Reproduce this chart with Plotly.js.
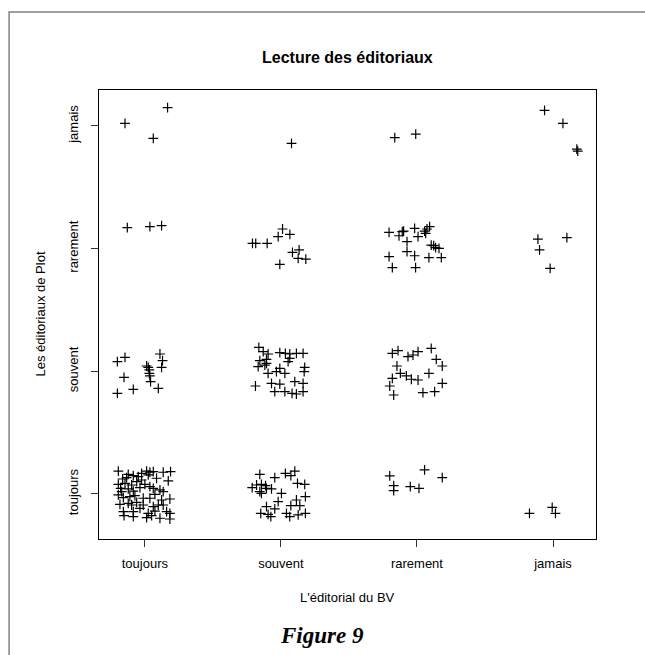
<!DOCTYPE html>
<html>
<head>
<meta charset="utf-8">
<script src="https://cdn.plot.ly/plotly-3.0.1.min.js"></script>
<style>
  html, body { margin: 0; padding: 0; background: #fff; overflow: hidden; }
  #chart { width: 645px; height: 655px; }
</style>
</head>
<body>
<div id="chart"></div>
<script>
// Category labels (both axes share the same scale)
const categories = ["toujours", "souvent", "rarement", "jamais"];
const categoryCodes = [1, 2, 3, 4];

// Jittered answers: x = L'éditorial du BV, y = Les éditoriaux de Plot
// toujours / toujours
const ttX = [0.805,0.878,1.013,1.037,1.062,1.135,1.189,0.837,0.866,0.915,0.952,0.976,1.086,1.172,0.805,0.854,0.903,0.94,1.0,1.037,1.062,0.822,0.878,0.915,0.964,1.111,1.135,0.805,0.842,0.927,0.988,1.074,1.123,1.184,0.817,0.878,0.903,0.94,0.988,1.062,1.099,0.842,0.915,1.025,1.074,1.16,1.184,0.847,0.915,1.013,1.05,1.111,1.184,0.976,1.025,0.83,1.037,0.964,0.89,1.135];
const ttY = [1.187,1.16,1.187,1.177,1.182,1.177,1.182,1.122,1.133,1.149,1.141,1.114,1.128,1.106,1.079,1.087,1.073,1.10,1.079,1.06,1.046,1.046,1.041,1.024,1.052,1.033,1.019,0.992,0.97,0.986,0.965,0.997,0.951,0.959,0.916,0.924,0.91,0.932,0.91,0.897,0.91,0.856,0.856,0.842,0.861,0.856,0.842,0.823,0.815,0.807,0.823,0.802,0.796,1.168,1.155,1.019,0.965,0.883,0.978,0.91];
// souvent (BV) / toujours (Plot)
const stX = [1.845,1.955,2.033,2.073,2.102,1.789,1.821,1.857,1.887,1.845,1.857,1.894,1.931,2.004,2.122,2.175,1.98,2.114,2.18,1.894,1.955,2.073,2.139,1.852,1.906,1.926,2.041,2.065,2.127,2.18];
const stY = [1.16,1.133,1.168,1.149,1.187,1.052,1.073,1.079,1.068,1.019,1.005,1.046,1.041,1.005,1.087,1.079,0.938,0.951,0.978,0.897,0.878,0.905,0.905,0.842,0.834,0.815,0.842,0.815,0.829,0.842];
// rarement / toujours and jamais / toujours
const rtX = [2.8,2.829,2.829,2.951,3.015,3.056,3.186];
const rtY = [1.147,1.068,1.027,1.06,1.046,1.196,1.133];
const jtX = [3.827,3.994,4.018];
const jtY = [0.842,0.891,0.842];
// ... / souvent
const tsX = [0.798,0.854,1.111,1.13,1.123,1.013,1.025,1.033,1.033,1.037,1.042,0.847,0.915,1.099,0.798];
const tsY = [2.079,2.114,2.141,2.087,2.032,2.043,2.032,2.011,1.983,1.962,1.916,1.951,1.853,1.861,1.82];
const ssX = [1.838,1.87,1.906,1.992,2.033,2.065,2.114,2.163,1.845,1.894,2.065,1.833,1.882,1.906,1.992,2.029,1.967,2.175,2.171,1.813,1.931,1.992,2.102,2.163,1.955,2.029,2.082,2.114,2.163,1.894,2.053];
const ssY = [2.195,2.16,2.141,2.152,2.146,2.141,2.146,2.146,2.087,2.098,2.106,2.038,2.051,1.983,2.024,1.983,1.997,2.032,1.997,1.88,1.902,1.896,1.916,1.902,1.834,1.834,1.82,1.815,1.834,2.065,2.079];
const rsX = [2.819,2.861,2.934,2.971,3.008,3.105,3.142,3.186,2.853,2.878,2.922,2.959,3.008,3.088,2.819,2.8,3.186,2.829,3.044,3.13];
const rsY = [2.146,2.168,2.119,2.133,2.16,2.187,2.098,2.043,2.043,1.983,1.962,1.935,1.929,1.983,1.943,1.88,1.902,1.807,1.826,1.834];
// ... / rarement
const trX = [0.871,1.037,1.123];
const trY = [3.171,3.179,3.187];
const srX = [1.791,1.815,1.899,1.98,2.012,2.066,2.085,2.134,2.127,2.183,1.992];
const srY = [3.043,3.043,3.043,3.097,3.16,3.116,2.97,2.989,2.921,2.915,2.872];
const rrX = [2.795,2.868,2.892,2.902,2.983,3.008,2.927,3.056,3.074,3.093,3.064,3.105,3.123,3.137,3.162,2.795,2.927,2.983,3.088,3.179,2.819,2.99];
const rrY = [3.133,3.105,3.138,3.143,3.165,3.097,3.057,3.143,3.16,3.179,3.124,3.029,3.024,3.008,3.002,2.934,2.975,2.942,2.926,2.926,2.845,2.845];
const jrX = [3.889,4.102,3.901,3.979];
const jrY = [3.078,3.089,2.989,2.839];
// ... / jamais
const tjX = [0.854,1.062,1.167];
const tjY = [4.021,3.899,4.149];
const sjX = [2.078];
const sjY = [3.858];
const rjX = [2.837,2.991];
const rjY = [3.904,3.934];
const jjX = [3.938,4.073,4.175,4.182];
const jjY = [4.127,4.021,3.811,3.795];

const allX = [].concat(ttX, stX, rtX, jtX, tsX, ssX, rsX, trX, srX, rrX, jrX, tjX, sjX, rjX, jjX);
const allY = [].concat(ttY, stY, rtY, jtY, tsY, ssY, rsY, trY, srY, rrY, jrY, tjY, sjY, rjY, jjY);

const trace = {
  type: "scatter",
  mode: "markers",
  x: allX,
  y: allY,
  marker: {
    symbol: "cross-thin-open",
    size: 7,
    color: "#000",
    line: { color: "#000", width: 1.2 }
  },
  hoverinfo: "skip",
  showlegend: false
};

const axisFont = { family: "Liberation Sans, Arial, sans-serif", size: 13, color: "#000" };

const layout = {
  width: 645,
  height: 655,
  margin: { l: 99, r: 48.5, t: 90, b: 116, pad: 0 },
  paper_bgcolor: "#fff",
  plot_bgcolor: "#fff",
  showlegend: false,
  xaxis: {
    range: [0.663, 4.316],
    tickvals: categoryCodes,
    ticktext: categories,
    ticks: "outside",
    ticklen: 7,
    tickwidth: 1,
    tickcolor: "#333",
    ticklabelstandoff: 5,
    showline: true,
    mirror: true,
    linecolor: "#000",
    linewidth: 1,
    showgrid: false,
    zeroline: false,
    tickfont: axisFont
  },
  yaxis: {
    range: [0.633, 4.293],
    tickvals: categoryCodes,
    ticktext: categories,
    tickangle: -90,
    ticks: "outside",
    ticklen: 7,
    tickwidth: 1,
    tickcolor: "#333",
    ticklabelstandoff: 8,
    showline: true,
    mirror: true,
    linecolor: "#000",
    linewidth: 1,
    showgrid: false,
    zeroline: false,
    tickfont: axisFont
  },
  annotations: [
    {
      text: "<b>Lecture des éditoriaux</b>",
      xref: "paper", yref: "paper", x: 0.5, y: 1, yshift: 33,
      xanchor: "center", yanchor: "middle", showarrow: false,
      font: { family: "Liberation Sans, Arial, sans-serif", size: 16, color: "#000" }
    },
    {
      text: "L'éditorial du BV",
      xref: "paper", yref: "paper", x: 0.5, y: 0, yshift: -58,
      xanchor: "center", yanchor: "middle", showarrow: false,
      font: { family: "Liberation Sans, Arial, sans-serif", size: 13, color: "#000" }
    },
    {
      text: "Les éditoriaux de Plot",
      xref: "paper", yref: "paper", x: 0, y: 0.5, xshift: -59,
      xanchor: "center", yanchor: "middle", textangle: -90, showarrow: false,
      font: { family: "Liberation Sans, Arial, sans-serif", size: 13, color: "#000" }
    },
    {
      text: "<b><i>Figure 9</i></b>",
      xref: "paper", yref: "paper", x: (322.5 - 99) / 497.5, y: 0, yshift: -96,
      xanchor: "center", yanchor: "middle", showarrow: false,
      font: { family: "Liberation Serif, Times New Roman, serif", size: 23, color: "#000" }
    }
  ],
  shapes: [
    {
      type: "rect", xref: "paper", yref: "paper",
      x0: (9 - 99) / 497.5, x1: (760 - 99) / 497.5,
      y0: (539 - 760) / 449, y1: (539 - 12) / 449,
      line: { color: "#808080", width: 1.5 },
      fillcolor: "rgba(0,0,0,0)",
      layer: "below"
    }
  ]
};

Plotly.newPlot("chart", [trace], layout, { staticPlot: true, displayModeBar: false });
</script>
</body>
</html>
